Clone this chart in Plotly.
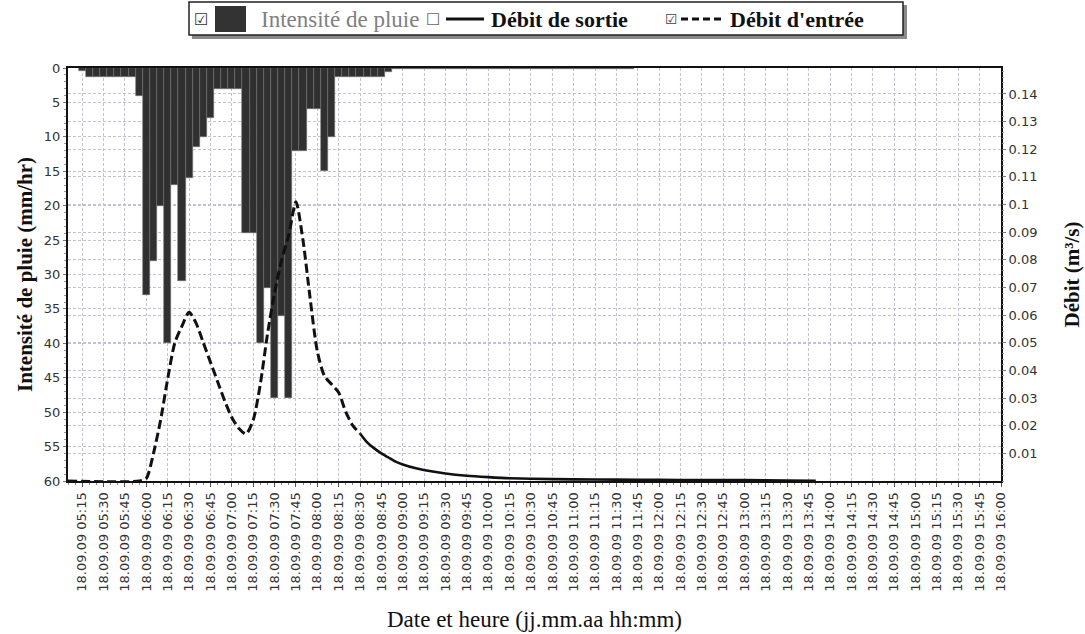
import plotly.graph_objects as go
from datetime import datetime, timedelta

DAY = "2009-09-18"

# Rainfall intensity (mm/hr), one value per 5-minute step starting at 05:15
rain_start = "05:15"
rain_step_min = 5
rain_intensity = [
    0.4, 1.3, 1.3, 1.3, 1.3, 1.3, 1.3, 1.3, 4.0,          # 05:15 - 05:55
    33, 28, 20, 40, 17, 31, 16, 11.5, 10, 7.3, 3, 3,      # 06:00 - 06:55
    3, 3, 24, 24, 40, 32, 48, 36, 48, 12, 12, 6,          # 07:00 - 07:55
    6, 15, 10, 1.3, 1.3, 1.3, 1.3, 1.3, 1.3, 1.3, 0.6,    # 08:00 - 08:50
    0.2, 0.2, 0.2, 0.2, 0.2, 0.2, 0.2, 0.2, 0.2, 0.2, 0.2, 0.2,  # 08:55 - 09:50
    0.2, 0.2, 0.2, 0.2, 0.2, 0.2, 0.2, 0.2, 0.2, 0.2, 0.2, 0.2,  # 09:55 - 10:50
    0.2, 0.2, 0.2, 0.2, 0.2, 0.2, 0.2, 0.2, 0.2, 0.2,            # 10:55 - 11:40
]

# Inflow discharge (m3/s)
flow_times = [
    "05:05", "05:55", "06:00", "06:05", "06:10", "06:15", "06:20", "06:25",
    "06:30", "06:35", "06:40", "06:45", "06:50", "06:55", "07:00", "07:05",
    "07:10", "07:15", "07:20", "07:25", "07:30", "07:35", "07:40", "07:45",
    "07:50", "07:55", "08:00", "08:05", "08:10", "08:15", "08:20", "08:25",
    "08:30", "08:35", "08:40", "08:45", "08:50", "08:55", "09:00", "09:10",
    "09:20", "09:30", "09:45", "10:00", "10:15", "10:30", "11:00", "11:30",
    "12:00", "12:30", "13:00", "13:30", "13:50",
]
flow_in = [
    0.0, 0.0, 0.001, 0.010, 0.022, 0.037, 0.050, 0.056,
    0.061, 0.057, 0.050, 0.043, 0.036, 0.029, 0.023, 0.019,
    0.017, 0.022, 0.035, 0.053, 0.068, 0.080, 0.089, 0.101,
    0.087, 0.066, 0.047, 0.038, 0.035, 0.032, 0.025, 0.020,
    0.0172, 0.0140, 0.0118, 0.0100, 0.0085, 0.0070, 0.0060, 0.0045,
    0.0035, 0.0027, 0.0019, 0.0014, 0.0010, 0.0008, 0.0006, 0.0005,
    0.0004, 0.0003, 0.0003, 0.0002, 0.0001,
]
dash_until = "08:30"   # the steep part is drawn dashed, the flat recession solid

left_ticks = [0, 5, 10, 15, 20, 25, 30, 35, 40, 45, 50, 55, 60]
right_ticks = [0.01, 0.02, 0.03, 0.04, 0.05, 0.06, 0.07, 0.08, 0.09, 0.10, 0.11, 0.12, 0.13, 0.14]
right_tick_text = ["0.01", "0.02", "0.03", "0.04", "0.05", "0.06", "0.07", "0.08",
                   "0.09", "0.1", "0.11", "0.12", "0.13", "0.14"]


def stamp(hhmm):
    return datetime.strptime(f"{DAY} {hhmm}", "%Y-%m-%d %H:%M")


t0 = stamp(rain_start)
rain_x = [t0 + timedelta(minutes=rain_step_min * i) for i in range(len(rain_intensity))]
flow_x = [stamp(t) for t in flow_times]
split = flow_times.index(dash_until)

W, H = 1085, 634
ML, MR, MT, MB = 68, 84, 68, 153
PW, PH = W - ML - MR, H - MT - MB


def px(x):
    return (x - ML) / PW


def py(y):
    return (H - MB - y) / PH


TICK_FONT = dict(family="DejaVu Sans", size=13, color="#333333")
SERIF = "Liberation Serif"
GRID = "#c2c2d6"

fig = go.Figure()

fig.add_trace(go.Bar(
    x=rain_x, y=rain_intensity, width=rain_step_min * 60 * 1000,
    marker=dict(color="#303030", line=dict(color="#6e6e6e", width=0.6)),
    yaxis="y", showlegend=False, name="Intensité de pluie",
))

fig.add_trace(go.Scatter(
    x=flow_x[:split + 1], y=flow_in[:split + 1], mode="lines",
    line=dict(color="#111111", width=3, dash="9px,4px", shape="spline", smoothing=0.7),
    yaxis="y2", showlegend=False, name="Débit d'entrée",
))
fig.add_trace(go.Scatter(
    x=flow_x[split:], y=flow_in[split:], mode="lines",
    line=dict(color="#111111", width=2.6, shape="spline", smoothing=0.7),
    yaxis="y2", showlegend=False, name="Débit d'entrée",
))

fig.update_layout(
    width=W, height=H,
    margin=dict(l=ML, r=MR, t=MT, b=MB, autoexpand=False),
    paper_bgcolor="white", plot_bgcolor="white",
    bargap=0,
    xaxis=dict(
        type="date",
        range=[stamp("05:05"), stamp("16:00")],
        tick0=stamp("05:15"), dtick=15 * 60 * 1000,
        tickformat="%d.%m.%y %H:%M", tickangle=-90,
        tickfont=TICK_FONT,
        ticks="outside", ticklen=4, tickcolor="#555",
        minor=dict(ticks="outside", ticklen=2, dtick=5 * 60 * 1000, tickcolor="#888", showgrid=False),
        showgrid=True, gridcolor=GRID, griddash="3px,2px", gridwidth=1,
        showline=True, linecolor="#111", linewidth=2, mirror=True,
        zeroline=False,
        title=dict(text="Date et heure (jj.mm.aa hh:mm)",
                   font=dict(family=SERIF, size=23, color="#111"), standoff=20),
    ),
    yaxis=dict(
        range=[60, 0],
        tickvals=left_ticks, tickfont=TICK_FONT,
        ticks="outside", ticklen=3, tickcolor="#777",
        minor=dict(ticks="outside", ticklen=2, dtick=1, tickcolor="#999", showgrid=False),
        showgrid=True, gridcolor=GRID, griddash="3px,2px", gridwidth=1,
        showline=True, linecolor="#111", linewidth=2, mirror=True,
        zeroline=False,
        title=dict(text="Intensité de pluie (mm/hr)",
                   font=dict(family=SERIF, size=21, color="#111", weight="bold"), standoff=6),
    ),
    yaxis2=dict(
        overlaying="y", side="right",
        range=[0, 0.1494],
        tickvals=right_ticks, ticktext=right_tick_text, tickfont=TICK_FONT,
        ticks="outside", ticklen=4, tickcolor="#777",
        minor=dict(ticks="outside", ticklen=2, dtick=0.002, tickcolor="#999", showgrid=False),
        showgrid=True, gridcolor=GRID, griddash="3px,2px", gridwidth=1,
        showline=False, zeroline=False,
        title=dict(text="Débit (m³/s)",
                   font=dict(family=SERIF, size=21, color="#111", weight="bold"), standoff=27),
    ),
)

# Legend box with check boxes and swatches
shapes = [
    dict(type="rect", xref="paper", yref="paper",
         x0=px(192), x1=px(907), y0=py(39), y1=py(5),
         fillcolor="#8a8a8a", line=dict(width=0), layer="above"),
    dict(type="rect", xref="paper", yref="paper",
         x0=px(189), x1=px(903), y0=py(35), y1=py(2),
         fillcolor="white", line=dict(color="#222", width=1.5), layer="above"),
    dict(type="rect", xref="paper", yref="paper",
         x0=px(215), x1=px(246), y0=py(32), y1=py(6),
         fillcolor="#333333", line=dict(width=0), layer="above"),
    dict(type="line", xref="paper", yref="paper",
         x0=px(446), x1=px(484), y0=py(19), y1=py(19),
         line=dict(color="#111", width=3), layer="above"),
    dict(type="line", xref="paper", yref="paper",
         x0=px(681), x1=px(722), y0=py(19), y1=py(19),
         line=dict(color="#111", width=3, dash="7px,4px"), layer="above"),
]
annotations = [
    dict(text="☑", x=px(201), y=py(19), font=dict(family="DejaVu Sans", size=16, color="#333")),
    dict(text="Intensité de pluie", x=px(259), y=py(19), xanchor="left",
         font=dict(family=SERIF, size=23, color="#808080")),
    dict(text="☐", x=px(433), y=py(19), font=dict(family="DejaVu Sans", size=16, color="#666")),
    dict(text="Débit de sortie", x=px(489), y=py(19), xanchor="left",
         font=dict(family=SERIF, size=22, color="#111", weight="bold")),
    dict(text="☑", x=px(671), y=py(19), font=dict(family="DejaVu Sans", size=14, color="#444")),
    dict(text="Débit d'entrée", x=px(728), y=py(19), xanchor="left",
         font=dict(family=SERIF, size=22, color="#111", weight="bold")),
]
for a in annotations:
    a.update(xref="paper", yref="paper", showarrow=False, yanchor="middle")
    a.setdefault("xanchor", "center")

fig.update_layout(shapes=shapes, annotations=annotations)

fig.write_html("out.html")
